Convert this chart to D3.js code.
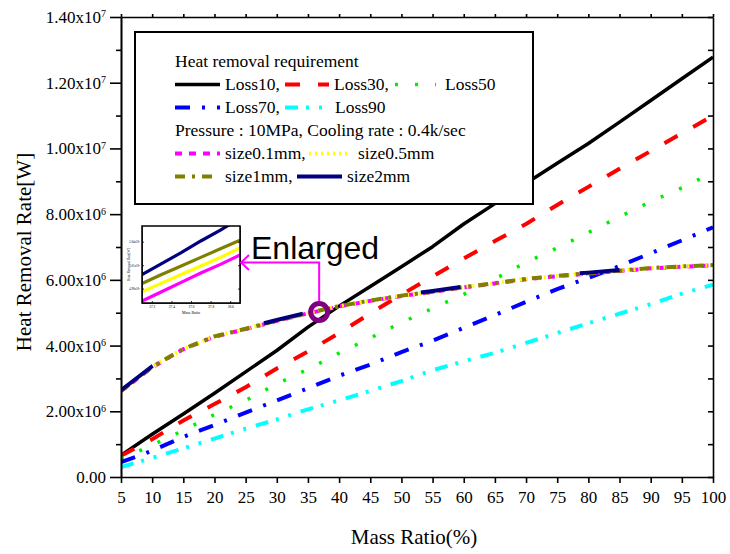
<!DOCTYPE html>
<html><head><meta charset="utf-8">
<script src="https://cdn.jsdelivr.net/npm/d3@7"></script>
<style>body{margin:0;background:#fff}svg{display:block}</style>
</head><body>
<svg id="chart" width="730" height="554"></svg>
<script>
// ---------- DATA (values in units of 10^6 W) ----------
const massRatio = [5,10,15,20,25,30,35,40,45,50,55,60,65,70,75,80,85,90,95,100];
const loss10 = [0.66,1.3,1.92,2.55,3.2,3.85,4.56,5.2,5.8,6.4,7.01,7.7,8.32,8.94,9.55,10.15,10.8,11.46,12.12,12.78];
const loss30 = [0.65,1.15,1.72,2.22,2.73,3.3,3.82,4.38,4.98,5.55,6.1,6.65,7.18,7.7,8.28,8.83,9.38,9.92,10.46,11.0];
const loss50 = [0.55,0.97,1.42,1.9,2.33,2.83,3.28,3.77,4.23,4.7,5.13,5.56,6.03,6.53,6.97,7.44,7.92,8.38,8.8,9.27];
const loss70 = [0.45,0.8,1.22,1.58,1.96,2.33,2.7,3.08,3.42,3.8,4.15,4.54,4.93,5.33,5.72,6.06,6.42,6.81,7.2,7.6];
const loss90 = [0.3,0.58,0.87,1.17,1.47,1.75,2.06,2.33,2.62,2.92,3.25,3.52,3.78,4.08,4.38,4.68,4.97,5.26,5.58,5.85];
const size01 = [2.61,3.34,3.89,4.27,4.5,4.75,4.98,5.19,5.36,5.51,5.63,5.77,5.89,6.02,6.11,6.19,6.27,6.35,6.4,6.44];
const size05 = [2.62,3.35,3.9,4.28,4.51,4.76,4.99,5.2,5.37,5.52,5.64,5.78,5.9,6.03,6.12,6.2,6.28,6.36,6.41,6.45];
const size1  = [2.62,3.35,3.9,4.28,4.51,4.76,4.99,5.2,5.37,5.52,5.64,5.78,5.9,6.03,6.12,6.2,6.28,6.36,6.41,6.45];
const size2  = [2.64,3.37,3.92,4.3,4.53,4.78,5.01,5.22,5.39,5.54,5.66,5.8,5.92,6.05,6.14,6.22,6.3,6.38,6.43,6.47];

const xTicks = [5,10,15,20,25,30,35,40,45,50,55,60,65,70,75,80,85,90,95,100];
const yMajor = [0,2,4,6,8,10,12,14];
const yMinor = [1,3,5,7,9,11,13];
const yTickLabels = ["0.00","2.00x10|6","4.00x10|6","6.00x10|6","8.00x10|6","1.00x10|7","1.20x10|7","1.40x10|7"];

// Inset (enlarged view)
const insetX = [37.1,37.3,37.5,37.7,37.9,38.1];
const insetNavy    = [4.998,5.012,5.026,5.041,5.055,5.070];
const insetOlive   = [4.9865,4.998,5.009,5.020,5.031,5.042];
const insetYellow  = [4.976,4.987,4.998,5.009,5.020,5.032];
const insetMagenta = [4.964,4.976,4.988,5.000,5.011,5.023];
const insetXTicks = [37.2,37.4,37.6,37.8,38.0];
const insetYTicks = [4.98,5.01,5.04];
const insetYLabels = ["4.98x10⁶","5.01x10⁶","5.04x10⁶"];

const legendTitle1 = "Heat removal requirement";
const legendTitle2 = "Pressure : 10MPa, Cooling rate : 0.4k/sec";
const lossLabels = ["Loss10,","Loss30,","Loss50","Loss70,","Loss90"];
const sizeLabels = ["size0.1mm,","size0.5mm","size1mm,","size2mm"];
const enlarged = {x: 36.8, y: 5.02};

// ---------- DRAW ----------
const serif = "'Liberation Serif','Times New Roman',serif";
const sans = "'Liberation Sans',Arial,sans-serif";
const svg = d3.select('#chart');
const x = d3.scaleLinear().domain([5,100]).range([121,713]);
const y = d3.scaleLinear().domain([0,14]).range([477,17]);

svg.append('defs').append('clipPath').attr('id','plotclip')
  .append('rect').attr('x',121).attr('y',17).attr('width',592).attr('height',460);

const lossSeries = [
  {v:loss10, color:'#000000', w:3.5, dash:null},
  {v:loss30, color:'#ff0000', w:4, dash:'15,18'},
  {v:loss50, color:'#00ee00', w:3.5, dash:'3,17'},
  {v:loss70, color:'#0000ff', w:4, dash:'15,12,3,12'},
  {v:loss90, color:'#00ffff', w:4, dash:'13,8,3,10,3,10'}
];
const sizeSeries = [
  {v:size01, color:'#ff00ff', w:4, dash:'7,7'},
  {v:size05, color:'#ffff00', w:4, dash:'2,4'},
  {v:size1,  color:'#808000', w:4, dash:'10,7,3,7'},
  {v:size2,  color:'#000080', w:4, dash:'40,120'}
];
const line = d3.line().x((d,i)=>x(massRatio[i])).y(d=>y(d));
const plot = svg.append('g').attr('clip-path','url(#plotclip)');
[...lossSeries, ...sizeSeries].forEach(s=>{
  plot.append('path').attr('d', line(s.v)).attr('fill','none')
    .attr('stroke', s.color).attr('stroke-width', s.w)
    .attr('stroke-dasharray', s.dash).attr('stroke-linejoin','round');
});

// Axes
const axisStyle = g => { g.selectAll('path,line').attr('stroke','#000').attr('stroke-width',1.6); };
svg.append('g').attr('transform','translate(0,477)')
  .call(d3.axisBottom(x).tickValues(xTicks).tickSize(6).tickSizeOuter(0).tickPadding(8).tickFormat(d3.format('d')))
  .call(axisStyle)
  .call(g=>g.selectAll('text').attr('font-family',serif).attr('font-size',17).attr('fill','#000'));
svg.append('g').attr('transform','translate(0,17)')
  .call(d3.axisTop(x).tickValues(xTicks).tickSize(3).tickSizeOuter(0).tickFormat(''))
  .call(axisStyle);
svg.append('g').attr('transform','translate(121,0)')
  .call(d3.axisLeft(y).tickValues(yMinor).tickSize(5).tickSizeOuter(0).tickFormat(''))
  .call(axisStyle);
svg.append('g').attr('transform','translate(121,0)')
  .call(d3.axisLeft(y).tickValues(yMajor).tickSize(11).tickSizeOuter(0).tickPadding(4).tickFormat((d,i)=>yTickLabels[i]))
  .call(axisStyle)
  .call(g=>g.selectAll('text').attr('font-family',serif).attr('font-size',17).attr('fill','#000')
    .each(function(){
      const t = d3.select(this); const parts = t.text().split('|'); t.text(null);
      t.append('tspan').text(parts[0]);
      if (parts[1]) t.append('tspan').attr('dy','-0.55em').attr('font-size',10).text(parts[1]);
    }));
svg.append('g').attr('transform','translate(713,0)')
  .call(d3.axisRight(y).tickValues([...yMajor,...yMinor]).tickSize(-5).tickSizeOuter(0).tickFormat(''))
  .call(axisStyle);

// Axis titles
svg.append('text').attr('transform','translate(24,252) rotate(-90)').attr('text-anchor','middle')
  .attr('dominant-baseline','central').attr('font-family',serif).attr('font-size',21).text('Heat Removal Rate[W]');
svg.append('text').attr('x',414).attr('y',544).attr('text-anchor','middle')
  .attr('font-family',serif).attr('font-size',21).text('Mass Ratio(%)');

// Legend
const lg = svg.append('g');
lg.append('rect').attr('x',135).attr('y',32).attr('width',398).attr('height',172)
  .attr('fill','#fff').attr('stroke','#000').attr('stroke-width',2);
const legendItems = [
  {s:lossSeries[0], x0:175, x1:220, tx:225, base:90, label:lossLabels[0]},
  {s:lossSeries[1], x0:285, x1:329, tx:334, base:90, label:lossLabels[1]},
  {s:lossSeries[2], x0:395, x1:436, tx:445, base:90, label:lossLabels[2]},
  {s:lossSeries[3], x0:175, x1:220, tx:225, base:113, label:lossLabels[3]},
  {s:lossSeries[4], x0:285, x1:322, tx:335, base:113, label:lossLabels[4]},
  {s:sizeSeries[0], x0:175, x1:220, tx:225, base:159, label:sizeLabels[0]},
  {s:sizeSeries[1], x0:309, x1:350, tx:358, base:159, label:sizeLabels[1]},
  {s:sizeSeries[2], x0:175, x1:218, tx:225, base:182, label:sizeLabels[2]},
  {s:{color:'#000080', w:4, dash:null}, x0:297, x1:342, tx:347, base:182, label:sizeLabels[3]}
];
lg.append('text').attr('x',175).attr('y',67).attr('font-family',serif).attr('font-size',17.5).text(legendTitle1);
lg.append('text').attr('x',175).attr('y',136).attr('font-family',serif).attr('font-size',17.5).text(legendTitle2);
legendItems.forEach(it=>{
  lg.append('line').attr('x1',it.x0).attr('x2',it.x1).attr('y1',it.base-5.5).attr('y2',it.base-5.5)
    .attr('stroke',it.s.color).attr('stroke-width',it.s.w).attr('stroke-dasharray',it.s.dash);
  lg.append('text').attr('x',it.tx).attr('y',it.base).attr('font-family',serif).attr('font-size',17.5).text(it.label);
});

// Inset
const ib = {x0:142, x1:240, y0:226, y1:303};
const ix = d3.scaleLinear().domain([37.1,38.1]).range([ib.x0, ib.x1]);
const iy = d3.scaleLinear().domain([4.9615,5.0602]).range([ib.y1, ib.y0]);
const ig = svg.append('g');
ig.append('rect').attr('x',ib.x0).attr('y',ib.y0).attr('width',ib.x1-ib.x0).attr('height',ib.y1-ib.y0).attr('fill','#fff');
ig.append('clipPath').attr('id','insetclip').append('rect')
  .attr('x',ib.x0).attr('y',ib.y0).attr('width',ib.x1-ib.x0).attr('height',ib.y1-ib.y0);
const iline = d3.line().x((d,i)=>ix(insetX[i])).y(d=>iy(d));
const ip = ig.append('g').attr('clip-path','url(#insetclip)');
[[insetNavy,'#000080'],[insetOlive,'#808000'],[insetYellow,'#ffff00'],[insetMagenta,'#ff00ff']].forEach(([v,c])=>{
  ip.append('path').attr('d',iline(v)).attr('fill','none').attr('stroke',c).attr('stroke-width',3.2);
});
const thin = g => g.selectAll('path,line').attr('stroke','#000').attr('stroke-width',0.8);
ig.append('g').attr('transform',`translate(0,${ib.y1})`)
  .call(d3.axisBottom(ix).tickValues(insetXTicks).tickSize(-2).tickSizeOuter(0).tickPadding(3).tickFormat(d3.format('.1f'))).call(thin)
  .call(g=>g.selectAll('text').attr('font-size',3.5).attr('font-family',serif));
ig.append('g').attr('transform',`translate(${ib.x0},0)`)
  .call(d3.axisLeft(iy).tickValues(insetYTicks).tickSize(-2).tickSizeOuter(0).tickPadding(2).tickFormat((d,i)=>insetYLabels[i])).call(thin)
  .call(g=>g.selectAll('text').attr('font-size',3).attr('font-family',serif));
ig.append('g').attr('transform',`translate(${ib.x1},0)`)
  .call(d3.axisRight(iy).tickValues(insetYTicks).tickSize(-2).tickSizeOuter(0).tickFormat('')).call(thin);
ig.append('rect').attr('x',ib.x0).attr('y',ib.y0).attr('width',ib.x1-ib.x0).attr('height',ib.y1-ib.y0)
  .attr('fill','none').attr('stroke','#000').attr('stroke-width',1.5);
ig.append('text').attr('x',(ib.x0+ib.x1)/2).attr('y',ib.y1+11).attr('text-anchor','middle')
  .attr('font-family',serif).attr('font-size',4).text('Mass Ratio');
ig.append('text').attr('transform',`translate(${ib.x0-12},${(ib.y0+ib.y1)/2}) rotate(-90)`).attr('text-anchor','middle')
  .attr('font-family',serif).attr('font-size',3.5).text('Heat Removal Rate[W]');

// Annotation
const cx = x(enlarged.x), cy = y(enlarged.y);
svg.append('path').attr('d',`M${cx},${cy-10}V262.5H${ib.x1+1}`).attr('fill','none').attr('stroke','#ff00ff').attr('stroke-width',2);
svg.append('path').attr('d',`M${ib.x1+9},255L${ib.x1+1},262.5L${ib.x1+9},270`).attr('fill','none').attr('stroke','#ff00ff').attr('stroke-width',2);
svg.append('circle').attr('cx',cx).attr('cy',cy).attr('r',8.5).attr('fill','none').attr('stroke','#800080').attr('stroke-width',5);
svg.append('text').attr('x',251).attr('y',259).attr('font-family',sans).attr('font-size',32).text('Enlarged');
</script>
</body></html>
